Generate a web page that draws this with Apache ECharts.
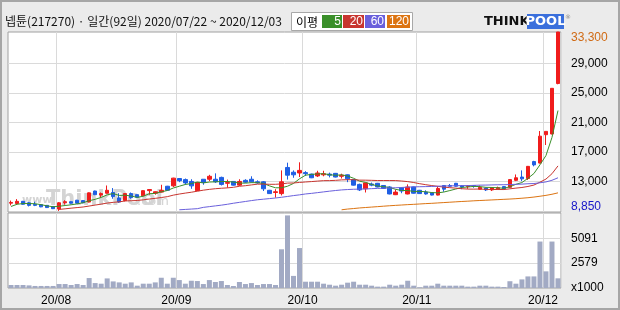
<!DOCTYPE html>
<html><head><meta charset="utf-8">
<script src="https://cdn.jsdelivr.net/npm/echarts@6/dist/echarts.min.js"></script>
<style>html,body{margin:0;padding:0;background:#ebebeb;}#c{width:620px;height:310px;}</style>
</head><body><div id="c"></div>
<script>
const titleText = '넵튠(217270) · 일간(92일) 2020/07/22 ~ 2020/12/03';
const dates = ['07/22','07/23','07/24','07/27','07/28','07/29','07/30','07/31',
'08/03','08/04','08/05','08/06','08/07','08/10','08/11','08/12','08/13','08/14','08/18','08/19','08/20','08/21','08/24','08/25','08/26','08/27','08/28','08/31',
'09/01','09/02','09/03','09/04','09/07','09/08','09/09','09/10','09/11','09/14','09/15','09/16','09/17','09/18','09/21','09/22','09/23','09/24','09/25','09/28','09/29',
'10/05','10/06','10/07','10/08','10/12','10/13','10/14','10/15','10/16','10/19','10/20','10/21','10/22','10/23','10/26','10/27','10/28','10/29','10/30',
'11/02','11/03','11/04','11/05','11/06','11/09','11/10','11/11','11/12','11/13','11/16','11/17','11/18','11/19','11/20','11/23','11/24','11/25','11/26','11/27','11/30',
'12/01','12/02','12/03'];
const opens = [10050,10000,10300,10100,9900,9850,9750,9600,9250,10100,
10250,10450,10400,10200,11700,11150,11400,11500,10750,10400,
11350,11200,11050,11750,11400,11550,12350,12400,13400,13250,
13000,11750,13300,13300,13300,13550,12750,13000,12500,13150,
13300,12950,12950,11800,11500,11350,14900,14250,14150,14200,
14000,13750,13900,14000,14100,13700,13900,13250,12600,12000,
12650,12750,12450,12250,11200,12150,11300,12250,11800,11550,
11450,11150,12450,12450,12750,12400,12300,12450,11950,12100,
11850,12000,12300,12200,13150,13600,13400,15700,15500,19350,
19450,26300];
const closes = [10150,10300,9900,9750,9750,9550,9450,9300,10100,10250,
10050,10050,10100,11450,11200,11350,11800,10950,10200,11350,
10800,10850,11750,11900,11600,11800,11800,13450,13100,12800,
12400,12850,12850,13700,12950,12600,12850,12500,13000,12900,
12950,12800,12000,11350,11600,12950,13850,13900,14500,14050,
13500,14150,14050,13850,13600,13850,13350,12500,11850,12800,
12500,12250,12050,11300,11550,11700,12250,11400,11350,11300,
11150,12050,11950,12350,12350,12250,12350,12350,12200,11850,
12150,12150,12000,13250,13500,13350,15050,15250,19150,19800,
25650,33300];
const lows = [9750,9850,9850,9600,9650,9500,9400,9250,9000,9850,
10000,10000,10050,10150,11150,10800,11350,10650,10100,10300,
10650,10800,11000,11200,11200,11500,11750,12250,12900,12550,
12000,11700,12550,13050,12800,12450,12150,12450,12400,12800,
12850,12700,11700,11300,10800,11100,13250,13500,13600,13750,
13450,13600,13700,13550,13550,13400,12900,12450,11700,11500,
12350,12200,12000,11250,11150,11400,11250,11350,11300,11200,
11100,11100,11600,12250,12300,11950,12000,12150,11900,11700,
11700,11900,11950,12150,13050,13050,13200,15050,15450,17950,
19400,26200];
const highs = [10400,10600,10350,10200,10250,9850,9750,9650,10200,10450,
10300,10500,10450,11500,11750,11500,12450,12100,11400,11400,
11500,11250,11800,11950,11650,12550,12400,13500,13450,13400,
13300,12900,13300,13900,14100,13650,13250,13050,13300,13300,
13700,13150,13050,11850,11950,14500,15550,14500,15600,14400,
14050,14450,14450,14200,14150,14050,13950,13300,12700,12850,
12850,12800,12500,12350,11900,12200,12600,12300,11850,11800,
11500,12350,12500,12650,12800,12500,12500,12500,12450,12150,
12200,12300,12350,13300,13950,14500,15100,15800,19850,19800,
25650,33300];
const volumes = [310,310,310,270,210,210,210,210,410,410,
310,410,310,1030,510,445,990,680,580,445,
580,240,445,445,580,1060,445,1060,820,445,
750,720,410,820,620,720,310,205,620,410,
510,310,410,410,310,4000,7500,1250,4130,650,
650,650,445,340,240,340,550,650,340,340,
240,140,140,340,240,340,750,240,70,240,
240,445,240,240,240,240,140,140,240,240,
140,140,103,700,445,889,1197,1197,4800,1720,
4800,1000];
const ma5 = [9600,9900,10000,10000,9970,9850,9680,9560,9630,9730,
9830,9950,10110,10380,10570,10830,11180,11350,11100,11130,
11020,10830,10990,11330,11380,11580,11770,12110,12350,12590,
12710,12920,12800,12920,12950,12990,12990,12920,12780,12770,
12840,12830,12730,12400,12140,12140,12350,12730,13360,13850,
13960,14020,14050,13920,13830,13900,13740,13430,13030,12870,
12600,12380,12290,12180,11930,11770,11770,11640,11650,11600,
11490,11450,11560,11760,11970,12190,12250,12330,12300,12200,
12180,12140,12070,12280,12610,12850,13430,14080,15260,16520,
18980,22630];
// MA20 starts at 08/03 (index 8)
const ma20 = [9200,9280,9370,9450,9530,9660,9790,9920,10060,10160,10230,
10350,10383,10410,10503,10610,10703,10815,10933,11140,11290,
11418,11535,11675,11813,11925,12013,12075,12128,12205,12345,
12423,12530,12628,12640,12613,12613,12670,12773,12795,12865,
12928,12983,13048,13108,13115,13148,13210,13235,13235,13178,
13173,13150,13123,13125,13123,13120,13058,12978,12853,12695,
12558,12440,12335,12230,12155,12093,12013,11963,11955,11973,
11925,11908,11903,11900,11998,12095,12178,12318,12510,12900,
13325,14050,15113];
// MA60 starts at 09/01 (index 28)
const ma60 = [9150,9200,9250,9300,9480,9580,9680,9780,9900,10040,10160,
10280,10400,10510,10590,10670,10750,10850,10960,11080,11180,
11300,11380,11480,11580,11680,11770,11850,11900,11940,11960,
11982,12021,12053,12089,12115,12145,12181,12228,12263,12283,
12301,12319,12353,12383,12398,12418,12433,12442,12465,12498,
12507,12529,12551,12555,12578,12609,12635,12689,12719,12820,
12937,13158,13496];
// MA120 starts at 10/14 (index 55)
const ma120 = [9150,9250,9320,9400,9460,9520,9580,9640,9700,9750,
9800,9850,9890,9940,9990,10030,10080,10130,10180,10230,
10280,10320,10370,10410,10450,10490,10530,10570,10610,10660,
10720,10790,10880,10990,11110,11260,11450];
const priceMin = 8850, priceMax = 33300;
const priceTicks = [8850,13000,17000,21000,25000,29000,33300];
const priceGridValues = [13000,17000,21000,25000,29000];
const volumeMax = 7750;
const volumeTicks = [0,2579,5091];
const maNames = ['5','20','60','120'];
const maColors = ['#3a8f2a','#c8352f','#6a60dc','#dc7412'];
const upColor = '#f01c1c', downColor = '#1f5fe4';

const pad = (arr) => Array(dates.length - arr.length).fill(null).concat(arr);
const candleData = dates.map((d, i) => [opens[i], closes[i], lows[i], highs[i]]);
const isMonthStart = (i) => i > 0 && dates[i].slice(0,2) !== dates[i-1].slice(0,2);
const fmt = (v) => Number(v).toLocaleString('en-US');

const gridLine = {color:'#dadada', width:1};
const xBase = (gi, showLabel) => ({
  type:'category', gridIndex: gi, data: dates, boundaryGap: true,
  axisLine:{show:false}, axisTick:{show:false},
  axisLabel: showLabel ? {
    show:true, interval:(i)=>isMonthStart(i), formatter:(v)=>'20/'+v.slice(0,2),
    color:'#000', fontSize:12, margin:7, padding:[0,6,0,0], fontFamily:'"Liberation Sans", Arial, sans-serif'
  } : {show:false},
  splitLine:{show:true, interval:(i)=>isMonthStart(i), lineStyle:gridLine}
});

const chart = echarts.init(document.getElementById('c'), null, {renderer:'canvas'});
const legendX = [322, 343, 365, 387], legendW = [20, 21, 20, 23];
const graphics = [
  {type:'rect', z:100, shape:{x:1,y:1,width:618,height:308}, style:{fill:null, stroke:'#a6a6a6', lineWidth:2}},
  {type:'rect', shape:{x:291.5,y:12.5,width:121,height:18}, style:{fill:'#fff', stroke:'#a8a8a8', lineWidth:1}},
  {type:'text', style:{x:296, y:22, text:'이평', font:'12px "Noto Sans CJK KR"', fill:'#000', verticalAlign:'middle'}},
  {type:'text', style:{x:484, y:22, text:'THINK', font:'bold 13px "DejaVu Sans"', fill:'#111', verticalAlign:'middle'}},
  {type:'rect', shape:{x:527,y:14,width:37,height:15}, style:{fill:'#3a6fdc'}},
  {type:'text', style:{x:545.5, y:22, text:'POOL', font:'bold 13px "DejaVu Sans"', fill:'#fff', align:'center', verticalAlign:'middle'}},
  {type:'text', style:{x:565, y:17, text:'®', font:'6px "DejaVu Sans"', fill:'#888', verticalAlign:'middle'}},
  {type:'text', z:1, style:{x:22, y:206, text:'www.', font:'bold 11px "DejaVu Sans"', fill:'#d4d4d4', verticalAlign:'bottom'}},
  {type:'text', z:1, style:{x:46, y:210, text:'ThinkPool', font:'bold 21px "DejaVu Sans"', fill:'#d4d4d4', verticalAlign:'bottom'}},
  {type:'text', z:1, style:{x:137, y:208, text:'.com', font:'13px "DejaVu Sans"', fill:'#d4d4d4', verticalAlign:'bottom'}}
];
maNames.forEach((n, k) => {
  graphics.push({type:'rect', shape:{x:legendX[k], y:15, width:legendW[k], height:13}, style:{fill:maColors[k]}});
  graphics.push({type:'text', style:{x:legendX[k]+legendW[k]-1, y:22, text:n, font:'12px "Liberation Sans"', fill:'#fff', align:'right', verticalAlign:'middle'}});
});

const option = {
  animation:false,
  backgroundColor:'#ebebeb',
  textStyle:{fontFamily:'"Liberation Sans", Arial, sans-serif'},
  title:{text:titleText, left:5, top:15, padding:0, textStyle:{fontSize:12, fontWeight:'normal', color:'#111', fontFamily:'"Noto Sans CJK KR", sans-serif'}},
  grid:[
    {left:8, right:59, top:32, height:180, show:true, backgroundColor:'#fff', borderColor:'#a0a0a0', borderWidth:1},
    {left:8, right:59, top:213, height:75, show:true, backgroundColor:'#fff', borderColor:'#a0a0a0', borderWidth:1}
  ],
  xAxis:[xBase(0,false), xBase(1,true)],
  yAxis:[
    {type:'value', gridIndex:0, position:'right', min:priceMin, max:priceMax,
     axisLine:{show:false}, axisTick:{show:false, customValues:priceGridValues}, splitLine:{show:true, lineStyle:gridLine},
     axisLabel:{customValues:priceTicks, margin:10, fontSize:12, color:'#000', showMinLabel:true, showMaxLabel:true,
       formatter:(v)=> v===priceMax ? '{mx|'+fmt(v)+'}' : (v===priceMin ? '{mn|'+fmt(v)+'}' : fmt(v)),
       rich:{mx:{color:'#d06a14', fontSize:12, padding:[12,0,0,0]}, mn:{color:'#1616c8', fontSize:12, padding:[0,0,10,0]}}}},
    {type:'value', gridIndex:1, position:'right', min:0, max:volumeMax,
     axisLine:{show:false}, axisTick:{show:false, customValues:volumeTicks.slice(1)}, splitLine:{show:true, lineStyle:gridLine},
     axisLabel:{customValues:volumeTicks, margin:10, fontSize:12, color:'#000', showMinLabel:true,
       formatter:(v)=> v===0 ? 'x1000' : String(v)}}
  ],
  graphic:graphics,
  series:[
    {type:'candlestick', name:'price', xAxisIndex:0, yAxisIndex:0, data:candleData, barWidth:4, z:3,
     itemStyle:{color:upColor, color0:downColor, borderColor:upColor, borderColor0:downColor, borderWidth:1}},
    {type:'line', name:'MA5', xAxisIndex:0, yAxisIndex:0, data:ma5, symbol:'none', z:4, lineStyle:{color:maColors[0], width:1}},
    {type:'line', name:'MA20', xAxisIndex:0, yAxisIndex:0, data:pad(ma20), symbol:'none', z:4, lineStyle:{color:maColors[1], width:1}},
    {type:'line', name:'MA60', xAxisIndex:0, yAxisIndex:0, data:pad(ma60), symbol:'none', z:4, lineStyle:{color:maColors[2], width:1}},
    {type:'line', name:'MA120', xAxisIndex:0, yAxisIndex:0, data:pad(ma120), symbol:'none', z:4, lineStyle:{color:maColors[3], width:1}},
    {type:'bar', name:'volume', xAxisIndex:1, yAxisIndex:1, data:volumes, barWidth:5, z:3, itemStyle:{color:'#a2aac4'}}
  ]
};
chart.setOption(option);
</script></body></html>
